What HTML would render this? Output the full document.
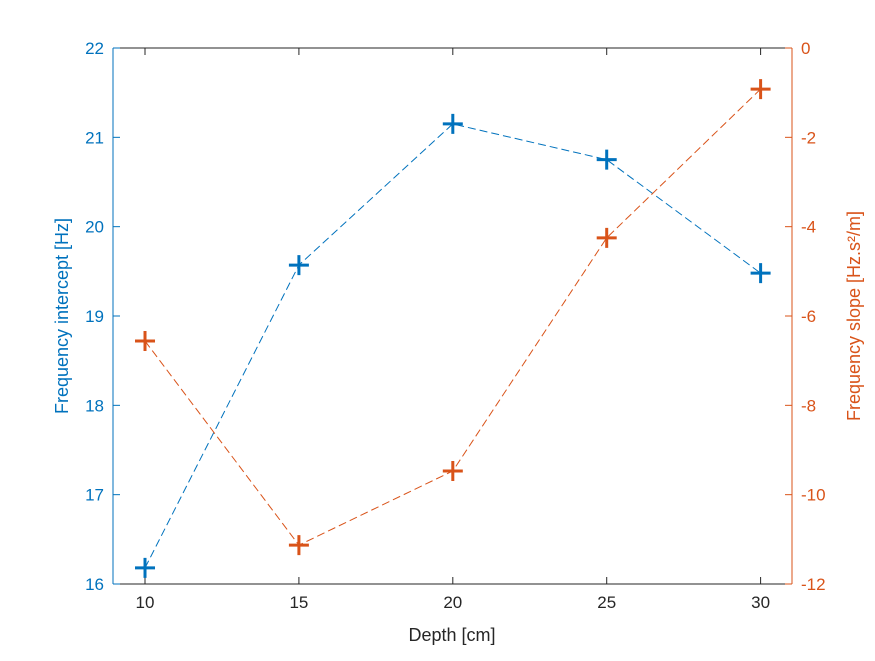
<!DOCTYPE html>
<html><head><meta charset="utf-8"><style>
body{margin:0;background:#fff;}
svg text{font-family:"Liberation Sans",Arial,sans-serif;}
</style></head><body>
<svg id="chart" width="875" height="656" xmlns="http://www.w3.org/2000/svg"></svg>
<script>
const depths=[10,15,20,25,30];
const intercept=[16.18,19.57,21.15,20.75,19.48];
const slope=[-6.56,-11.13,-9.47,-4.25,-0.92];
const xTicks=[10,15,20,25,30];
const leftTicks=[16,17,18,19,20,21,22];
const rightTicks=[0,-2,-4,-6,-8,-10,-12];
const L=113,R=792,T=48,B=584;
const BLUE='#0072BD',ORANGE='#D95319';
const xs=v=>L+(v-8.96)/(31.02-8.96)*(R-L);
const yl=v=>B-(v-16)/6*(B-T);
const yr=v=>T+(0-v)/12*(B-T);
const svg=document.getElementById('chart');
const NS='http://www.w3.org/2000/svg';
function mk(tag,attrs,name,parent){const e=document.createElementNS(NS,tag);for(const k in attrs)e.setAttribute(k,attrs[k]);


(parent||svg).appendChild(e);return e;}
mk('rect',{x:L,y:T,width:R-L,height:B-T,fill:'#fff'},'plot-area');
mk('line',{x1:L,y1:B,x2:R,y2:B,stroke:'#262626'},'x-axis');
mk('line',{x1:L,y1:T,x2:R,y2:T,stroke:'#262626'},'top-border');
mk('line',{x1:L,y1:T,x2:L,y2:B,stroke:BLUE},'left-y-axis');
mk('line',{x1:R,y1:T,x2:R,y2:B,stroke:ORANGE},'right-y-axis');
xTicks.forEach(v=>{const x=xs(v);
mk('line',{x1:x,y1:B,x2:x,y2:B-7,stroke:'#262626'},'x-tick');
mk('line',{x1:x,y1:T,x2:x,y2:T+7,stroke:'#262626'},'x-tick-top');
const t=mk('text',{x:x,y:B+24,'text-anchor':'middle','font-size':17,fill:'#262626'},'x-tick-label');t.textContent=v;});
leftTicks.forEach(v=>{const y=yl(v);
mk('line',{x1:L,y1:y,x2:L+7,y2:y,stroke:BLUE},'left-tick');
const t=mk('text',{x:L-9,y:y+6,'text-anchor':'end','font-size':17,fill:BLUE},'left-tick-label');t.textContent=v;});
rightTicks.forEach(v=>{const y=yr(v);
mk('line',{x1:R,y1:y,x2:R-7,y2:y,stroke:ORANGE},'right-tick');
const t=mk('text',{x:R+9,y:y+6,'text-anchor':'start','font-size':17,fill:ORANGE},'right-tick-label');t.textContent=v;});
function series(vals,yf,color,name){
 const pts=depths.map((d,i)=>xs(d)+','+yf(vals[i])).join(' ');
 mk('polyline',{points:pts,fill:'none',stroke:color,'stroke-width':1,'stroke-dasharray':'8,4'},name+'-line');
 depths.forEach((d,i)=>{const x=xs(d),y=yf(vals[i]);
  mk('path',{d:`M${x-10},${y}H${x+10}M${x},${y-10}V${y+10}`,stroke:color,'stroke-width':3},name+'-marker');});
}
series(intercept,yl,BLUE,'intercept');
series(slope,yr,ORANGE,'slope');
let t=mk('text',{x:452,y:641,'text-anchor':'middle','font-size':18,fill:'#262626'},'x-axis-title');t.textContent='Depth [cm]';
t=mk('text',{x:0,y:0,'text-anchor':'middle','font-size':18,fill:BLUE,transform:`translate(68,316) rotate(-90)`},'left-y-axis-title');t.textContent='Frequency intercept [Hz]';
t=mk('text',{x:0,y:0,'text-anchor':'middle','font-size':18,fill:ORANGE,transform:`translate(860,316) rotate(-90)`},'right-y-axis-title');t.textContent='Frequency slope [Hz.s²/m]';
</script>
</body></html>
